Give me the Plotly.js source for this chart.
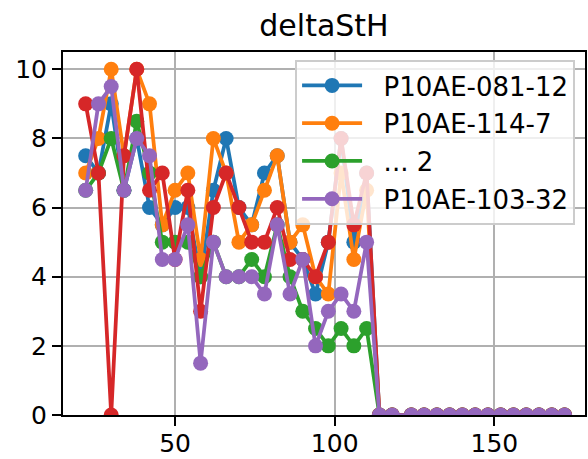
<!DOCTYPE html>
<html>
<head>
<meta charset="utf-8">
<script src="https://cdn.plot.ly/plotly-3.0.1.min.js"></script>
<style>html,body{margin:0;padding:0;background:#fff;}#chart{width:588px;height:459px;}</style>
</head>
<body>
<div id="chart"></div>
<script>
// x positions
const xVals = [22,26,30,34,38,42,46,50,54,58,62,66,70,74,78,82,86,90,94,98,102,106,110,
               114,118,124,128,132,136,140,144,148,152,156,160,164,168,172];
// series values
const zeros = [0,0,0,0,0,0,0,0,0,0,0,0,0,0,0];
const blueVals   = [7.5,7,9,6.5,8,6,5.5,6,6,4,6.5,8,6,5.5,7,7.5,5,4.5,3.5,5,8,5,7].concat(zeros);
const orangeVals = [7,8,10,7.5,10,9,5.5,6.5,7,4.5,8,7,5,5.5,6.5,7.5,5,5.5,4,3.5,7,4.5,6.5].concat(zeros);
const greenVals  = [6.5,7,8,6.5,8.5,7,5,5,5,4,5,4,4,4.5,4,5.5,4,3,2.5,2,2.5,2,2.5].concat(zeros);
const redVals    = [9,7,0,7.5,10,6.5,7,4.5,6.5,3,6,7,6,5,5,6,4.5,4.5,4,5,8,5.5,7].concat(zeros);
const purpleVals = [6.5,9,9.5,6.5,8,7.5,4.5,4.5,5.5,1.5,5,4,4,4,3.5,5.5,3.5,4.5,2,3,3.5,3,5].concat(zeros);

const names  = ['P10AE-081-12','P10AE-114-7','... 2','','P10AE-103-32'];
const series = [blueVals, orangeVals, greenVals, redVals, purpleVals];
const colors = ['#1f77b4','#ff7f0e','#2ca02c','#d62728','#9467bd'];
const showLeg = [true,true,true,false,true];

const xTicks = [50,100,150];
const yTicks = [0,2,4,6,8,10];

const pad = '\u00a0\u00a0';
const traces = series.map((ys,i)=>({
  x: xVals, y: ys, type:'scatter', mode:'lines+markers',
  name: pad + names[i], showlegend: showLeg[i], legendgroup: 'g'+i,
  line:{color:colors[i], width:3.75},
  marker:{color:colors[i], size:15}
}));

const font = {family:'DejaVu Sans', size:25, color:'#000'};
const layout = {
  width:588, height:459,
  margin:{l:63, r:3, t:52, b:44},
  paper_bgcolor:'#fff', plot_bgcolor:'#fff',
  font: font,
  title:{text:'deltaStH', font:{family:'DejaVu Sans', size:30, color:'#000'},
         x:0.5, xref:'paper', xanchor:'center', y:0.945, yref:'container', yanchor:'middle'},
  xaxis:{range:[14.9,178.4], tickvals:xTicks, ticktext:xTicks.map(String),
         showgrid:true, gridcolor:'#b0b0b0', gridwidth:2,
         showline:true, linecolor:'#000', linewidth:2, mirror:true,
         ticks:'outside', ticklen:9, tickwidth:2, tickcolor:'#000',
         ticklabelstandoff:-4,
         zeroline:false, tickfont:font},
  yaxis:{range:[0,10.5], tickvals:yTicks, ticktext:yTicks.map(String),
         showgrid:true, gridcolor:'#b0b0b0', gridwidth:2,
         showline:true, linecolor:'#000', linewidth:2, mirror:true,
         ticks:'outside', ticklen:9, tickwidth:2, tickcolor:'#000',
         zeroline:false, tickfont:font},
  legend:{x:0.981, y:0.978, xanchor:'right', yanchor:'top',
          bgcolor:'rgba(255,255,255,0.8)', bordercolor:'#cccccc', borderwidth:2,
          font:{family:'DejaVu Sans', size:26, color:'#000'}, tracegroupgap:1, itemwidth:60},
  showlegend:true
};
Plotly.newPlot('chart', traces, layout, {displayModeBar:false, staticPlot:true});
</script>
</body>
</html>
